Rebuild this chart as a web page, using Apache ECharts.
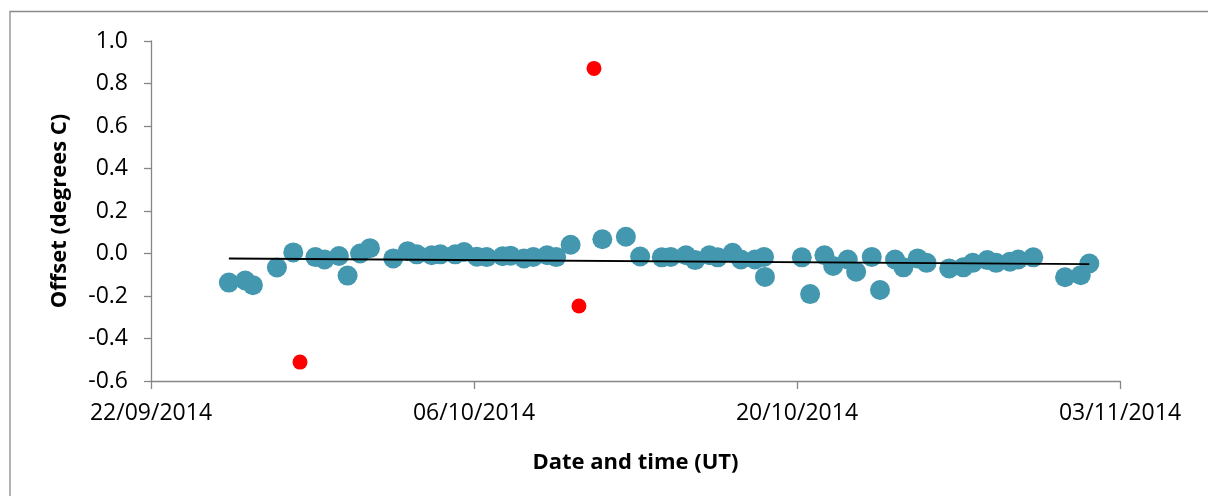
<!DOCTYPE html>
<html>
<head>
<meta charset="utf-8">
<script src="https://cdn.jsdelivr.net/npm/echarts@6/dist/echarts.min.js"></script>
<style>
html,body{margin:0;padding:0;background:#fff;}
#chart{width:1208px;height:496px;}
</style>
</head>
<body>
<div id="chart"></div>
<script>
// ---- data ----
const xTickLabels = ['22/09/2014', '06/10/2014', '20/10/2014', '03/11/2014'];
const yTickLabels = ['-0.6','-0.4','-0.2','0.0','0.2','0.4','0.6','0.8','1.0'];

const offsetTimes = [
  '2014-09-25T09:00','2014-09-26T02:00','2014-09-26T10:00','2014-09-27T11:00','2014-09-28T04:00',
  '2014-09-29T03:00','2014-09-29T12:30','2014-09-30T03:30','2014-09-30T12:30','2014-10-01T01:30',
  '2014-10-01T11:45','2014-10-02T12:00','2014-10-03T03:00','2014-10-03T12:30','2014-10-04T04:00',
  '2014-10-04T13:00','2014-10-05T04:30','2014-10-05T13:40','2014-10-06T03:00','2014-10-06T13:10',
  '2014-10-07T05:45','2014-10-07T14:00','2014-10-08T04:00','2014-10-08T13:40','2014-10-09T04:00',
  '2014-10-09T13:30','2014-10-10T04:30','2014-10-11T13:30','2014-10-12T14:00','2014-10-13T04:50',
  '2014-10-14T03:20','2014-10-14T12:40','2014-10-15T04:30','2014-10-15T14:00','2014-10-16T04:50',
  '2014-10-16T13:30','2014-10-17T05:00','2014-10-17T13:40','2014-10-18T04:20','2014-10-18T13:40',
  '2014-10-18T14:40','2014-10-20T05:00','2014-10-20T13:40','2014-10-21T04:30','2014-10-21T13:40',
  '2014-10-22T04:50','2014-10-22T13:30','2014-10-23T05:45','2014-10-23T14:20','2014-10-24T06:00',
  '2014-10-24T14:40','2014-10-25T05:30','2014-10-25T14:50','2014-10-26T14:20','2014-10-27T05:00',
  '2014-10-27T14:50','2014-10-28T06:00','2014-10-28T15:10','2014-10-29T05:30','2014-10-29T14:10',
  '2014-10-30T05:45','2014-10-31T14:50','2014-11-01T07:10','2014-11-01T16:05'
];
const offsetValues = [
  -0.137,-0.127,-0.149,-0.066,0.005,
  -0.017,-0.028,-0.012,-0.104,0.000,
  0.025,-0.023,0.011,-0.004,-0.008,
  -0.004,-0.004,0.007,-0.015,-0.017,
  -0.013,-0.010,-0.023,-0.016,-0.008,
  -0.017,0.041,0.067,0.079,-0.014,
  -0.018,-0.016,-0.008,-0.031,-0.008,
  -0.018,0.003,-0.028,-0.028,-0.016,
  -0.110,-0.018,-0.191,-0.008,-0.059,
  -0.028,-0.086,-0.016,-0.172,-0.028,
  -0.065,-0.023,-0.044,-0.070,-0.065,
  -0.044,-0.031,-0.044,-0.039,-0.028,
  -0.018,-0.112,-0.102,-0.047
];

const rejectedTimes = ['2014-09-28T11:00','2014-10-10T13:10','2014-10-11T04:50'];
const rejectedValues = [-0.511,-0.247,0.871];

const trendTimes = ['2014-09-25T09:00','2014-11-01T16:05'];
const trendValues = [-0.024,-0.050];

// ---- helpers ----
const baseDate = '2014-09-22T00:00';
const DAY = 86400000;
const toDay = s => (Date.parse(s + 'Z') - Date.parse(baseDate + 'Z')) / DAY;
const zip = (ts, vs) => ts.map((t, i) => [toDay(t), vs[i]]);
const fmtDate = d => {
  const dt = new Date(Date.parse(baseDate + 'Z') + d * DAY);
  const p = n => String(n).padStart(2, '0');
  return p(dt.getUTCDate()) + '/' + p(dt.getUTCMonth() + 1) + '/' + dt.getUTCFullYear();
};

const FONT = 'Open Sans';
const AX = '#868686';

const chart = echarts.init(document.getElementById('chart'), null, {renderer: 'canvas'});
chart.setOption({
  animation: false,
  backgroundColor: '#fff',
  graphic: [{
    type: 'rect', silent: true, z: -10,
    shape: {x: 10, y: 11.5, width: 1400, height: 700},
    style: {fill: 'none', stroke: '#8a8a8a', lineWidth: 1.3}
  }],
  grid: {left: 151, right: 88, top: 41, bottom: 115, containLabel: false},
  xAxis: {
    type: 'value', min: 0, max: 42, interval: 14,
    name: 'Date and time (UT)', nameLocation: 'middle', nameGap: 71,
    nameTextStyle: {fontFamily: FONT, fontWeight: 'bold', fontSize: 22, color: '#000'},
    axisLine: {onZero: false, lineStyle: {color: AX, width: 1.3}},
    axisTick: {show: true, length: 8, lineStyle: {color: AX, width: 1.3}},
    splitLine: {show: false},
    axisLabel: {
      fontFamily: FONT, fontSize: 23, color: '#000', margin: 21,
      formatter: v => { const s = fmtDate(v); return xTickLabels.includes(s) ? s : ''; }
    }
  },
  yAxis: {
    type: 'value', min: -0.6, max: 1.0, interval: 0.2,
    name: 'Offset (degrees C)', nameLocation: 'middle', nameGap: 80, nameRotate: 90,
    nameTextStyle: {fontFamily: FONT, fontWeight: 'bold', fontSize: 22, color: '#000'},
    axisLine: {show: true, onZero: false, lineStyle: {color: AX, width: 1.3}},
    axisTick: {show: true, length: 7, lineStyle: {color: AX, width: 1.3}},
    splitLine: {show: false},
    axisLabel: {
      fontFamily: FONT, fontSize: 23, color: '#000', margin: 23,
      formatter: v => { const s = (Math.abs(v) < 1e-9 ? 0 : v).toFixed(1); return yTickLabels.includes(s) ? s : ''; }
    }
  },
  series: [
    {
      name: 'Offset', type: 'scatter', data: zip(offsetTimes, offsetValues),
      symbol: 'circle', symbolSize: 20,
      itemStyle: {color: '#4397ae', opacity: 1}, z: 2
    },
    {
      name: 'Rejected', type: 'scatter', data: zip(rejectedTimes, rejectedValues),
      symbol: 'circle', symbolSize: 15,
      itemStyle: {color: '#ff0000', opacity: 1}, z: 3
    },
    {
      name: 'Trend', type: 'line', data: zip(trendTimes, trendValues),
      symbol: 'none', lineStyle: {color: '#000', width: 2}, z: 4
    }
  ]
});
</script>
</body>
</html>
